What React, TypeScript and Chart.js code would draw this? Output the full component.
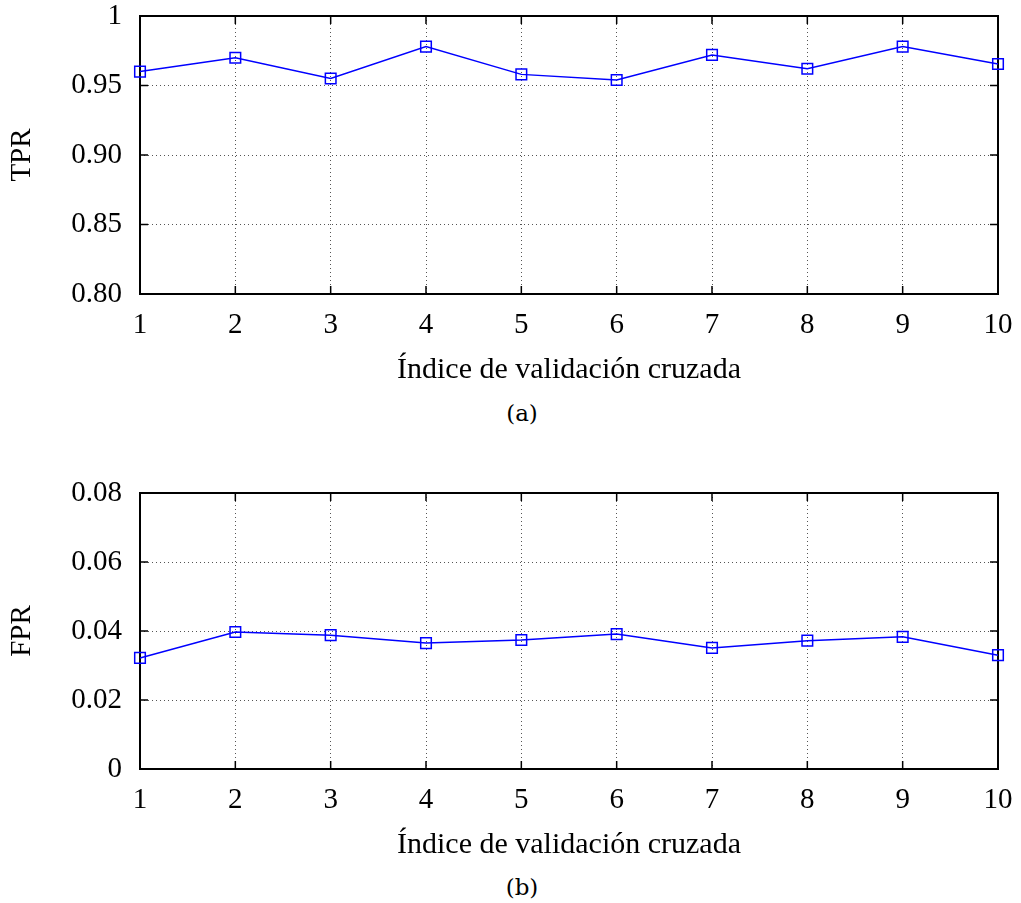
import React, { useEffect, useRef } from "react";
import { Chart, registerables } from "chart.js";

Chart.register(...registerables);

const foldIndex = [1, 2, 3, 4, 5, 6, 7, 8, 9, 10];
const tprValues = [0.96, 0.97, 0.955, 0.978, 0.958, 0.954, 0.972, 0.962, 0.978, 0.9655];
const fprValues = [0.0322, 0.0397, 0.0388, 0.0365, 0.0374, 0.0391, 0.0351, 0.0372, 0.0383, 0.033];
const tprTicks = [0.8, 0.85, 0.9, 0.95, 1];
const tprTickLabels = ["0.80", "0.85", "0.90", "0.95", "1"];
const fprTicks = [0, 0.02, 0.04, 0.06, 0.08];
const fprTickLabels = ["0", "0.02", "0.04", "0.06", "0.08"];
const xTitle = "Índice de validación cruzada";

const FONT = "'Liberation Serif', 'Times New Roman', serif";

const framePlugin = {
  id: "frame",
  beforeDatasetsDraw(chart: any) {
    const { ctx, chartArea } = chart;
    const { left, right, top, bottom } = chartArea;
    ctx.save();
    ctx.setLineDash([]);
    ctx.strokeStyle = "#000";
    ctx.lineWidth = 1.5;
    const tl = 8;
    const xs = chart.scales.x;
    const ys = chart.scales.y;
    ctx.beginPath();
    xs.ticks.forEach((t: any) => {
      const px = xs.getPixelForValue(t.value);
      ctx.moveTo(px, bottom);
      ctx.lineTo(px, bottom - tl);
      ctx.moveTo(px, top);
      ctx.lineTo(px, top + tl);
    });
    ys.ticks.forEach((t: any) => {
      const py = ys.getPixelForValue(t.value);
      ctx.moveTo(left, py);
      ctx.lineTo(left + tl, py);
      ctx.moveTo(right, py);
      ctx.lineTo(right - tl, py);
    });
    ctx.stroke();
    ctx.lineWidth = 2;
    ctx.strokeRect(left, top, right - left, bottom - top);
    ctx.restore();
  },
};

function Panel(props: {
  values: number[];
  yTitle: string;
  ticks: number[];
  tickLabels: string[];
  padTop: number;
  height: number;
  top: number;
}) {
  const ref = useRef<HTMLCanvasElement>(null);
  useEffect(() => {
    if (!ref.current) return;
    const { ticks, tickLabels } = props;
    const chart = new Chart(ref.current, {
      type: "line",
      data: {
        datasets: [
          {
            data: foldIndex.map((x, i) => ({ x, y: props.values[i] })),
            borderColor: "#0000ff",
            backgroundColor: "rgba(0,0,0,0)",
            borderWidth: 1.5,
            pointStyle: "rect",
            pointRadius: 7.5,
            pointBorderWidth: 1.5,
            pointBorderColor: "#0000ff",
            pointBackgroundColor: "rgba(0,0,0,0)",
            tension: 0,
            clip: false,
          } as any,
        ],
      },
      options: {
        animation: false,
        responsive: false,
        events: [],
        layout: { padding: { top: props.padTop, left: 0, right: 23, bottom: 2 } },
        plugins: { legend: { display: false }, tooltip: { enabled: false } },
        scales: {
          x: {
            type: "linear",
            min: 1,
            max: 10,
            afterFit: (s: any) => {
              s.height = 94;
              s.paddingLeft = 0;
              s.paddingRight = 0;
            },
            afterBuildTicks: (s: any) => {
              s.ticks = foldIndex.map((v) => ({ value: v }));
            },
            ticks: {
              color: "#000",
              font: { family: FONT, size: 29 },
              padding: 14,
              maxRotation: 0,
              callback: (v: any) => String(v),
            },
            grid: { color: "#555", lineWidth: 1, drawTicks: false },
            border: { display: false, dash: [1, 3] } as any,
            title: {
              display: true,
              text: xTitle,
              color: "#000",
              font: { family: FONT, size: 30 },
              padding: { top: 0, bottom: 0 },
            },
          },
          y: {
            type: "linear",
            min: ticks[0],
            max: ticks[ticks.length - 1],
            afterFit: (s: any) => {
              s.width = 140;
              s.paddingTop = 0;
              s.paddingBottom = 0;
            },
            afterBuildTicks: (s: any) => {
              s.ticks = ticks.map((v) => ({ value: v }));
            },
            ticks: {
              color: "#000",
              font: { family: FONT, size: 29 },
              padding: 18,
              callback: (v: any) => {
                const i = ticks.findIndex((t) => Math.abs(t - v) < 1e-9);
                return i >= 0 ? tickLabels[i] : "";
              },
            },
            grid: { color: "#555", lineWidth: 1, drawTicks: false },
            border: { display: false, dash: [1, 3] } as any,
            title: {
              display: true,
              text: props.yTitle,
              color: "#000",
              font: { family: FONT, size: 29 },
              padding: { top: 5, bottom: 0 },
            },
          },
        },
      },
      plugins: [framePlugin],
    } as any);
    return () => chart.destroy();
  }, []);
  return (
    <canvas
      ref={ref}
      width={1021}
      height={props.height}
      style={{ position: "absolute", left: 0, top: props.top, width: 1021, height: props.height }}
    />
  );
}

export default function App() {
  const capStyle: React.CSSProperties = {
    position: "absolute",
    left: 522,
    transform: "translate(-50%, -50%)",
    fontFamily: "'DejaVu Serif', serif",
    fontSize: 23,
    color: "#000",
    whiteSpace: "nowrap",
    lineHeight: 1,
  };
  return (
    <div style={{ position: "absolute", left: 0, top: 0, width: 1021, height: 903, background: "#fff" }}>
      <Panel values={tprValues} yTitle="TPR" ticks={tprTicks} tickLabels={tprTickLabels} padTop={16} height={390} top={0} />
      <div style={{ ...capStyle, top: 413 }}>(a)</div>
      <Panel values={fprValues} yTitle="FPR" ticks={fprTicks} tickLabels={fprTickLabels} padTop={13} height={385} top={480} />
      <div style={{ ...capStyle, top: 887 }}>(b)</div>
    </div>
  );
}
